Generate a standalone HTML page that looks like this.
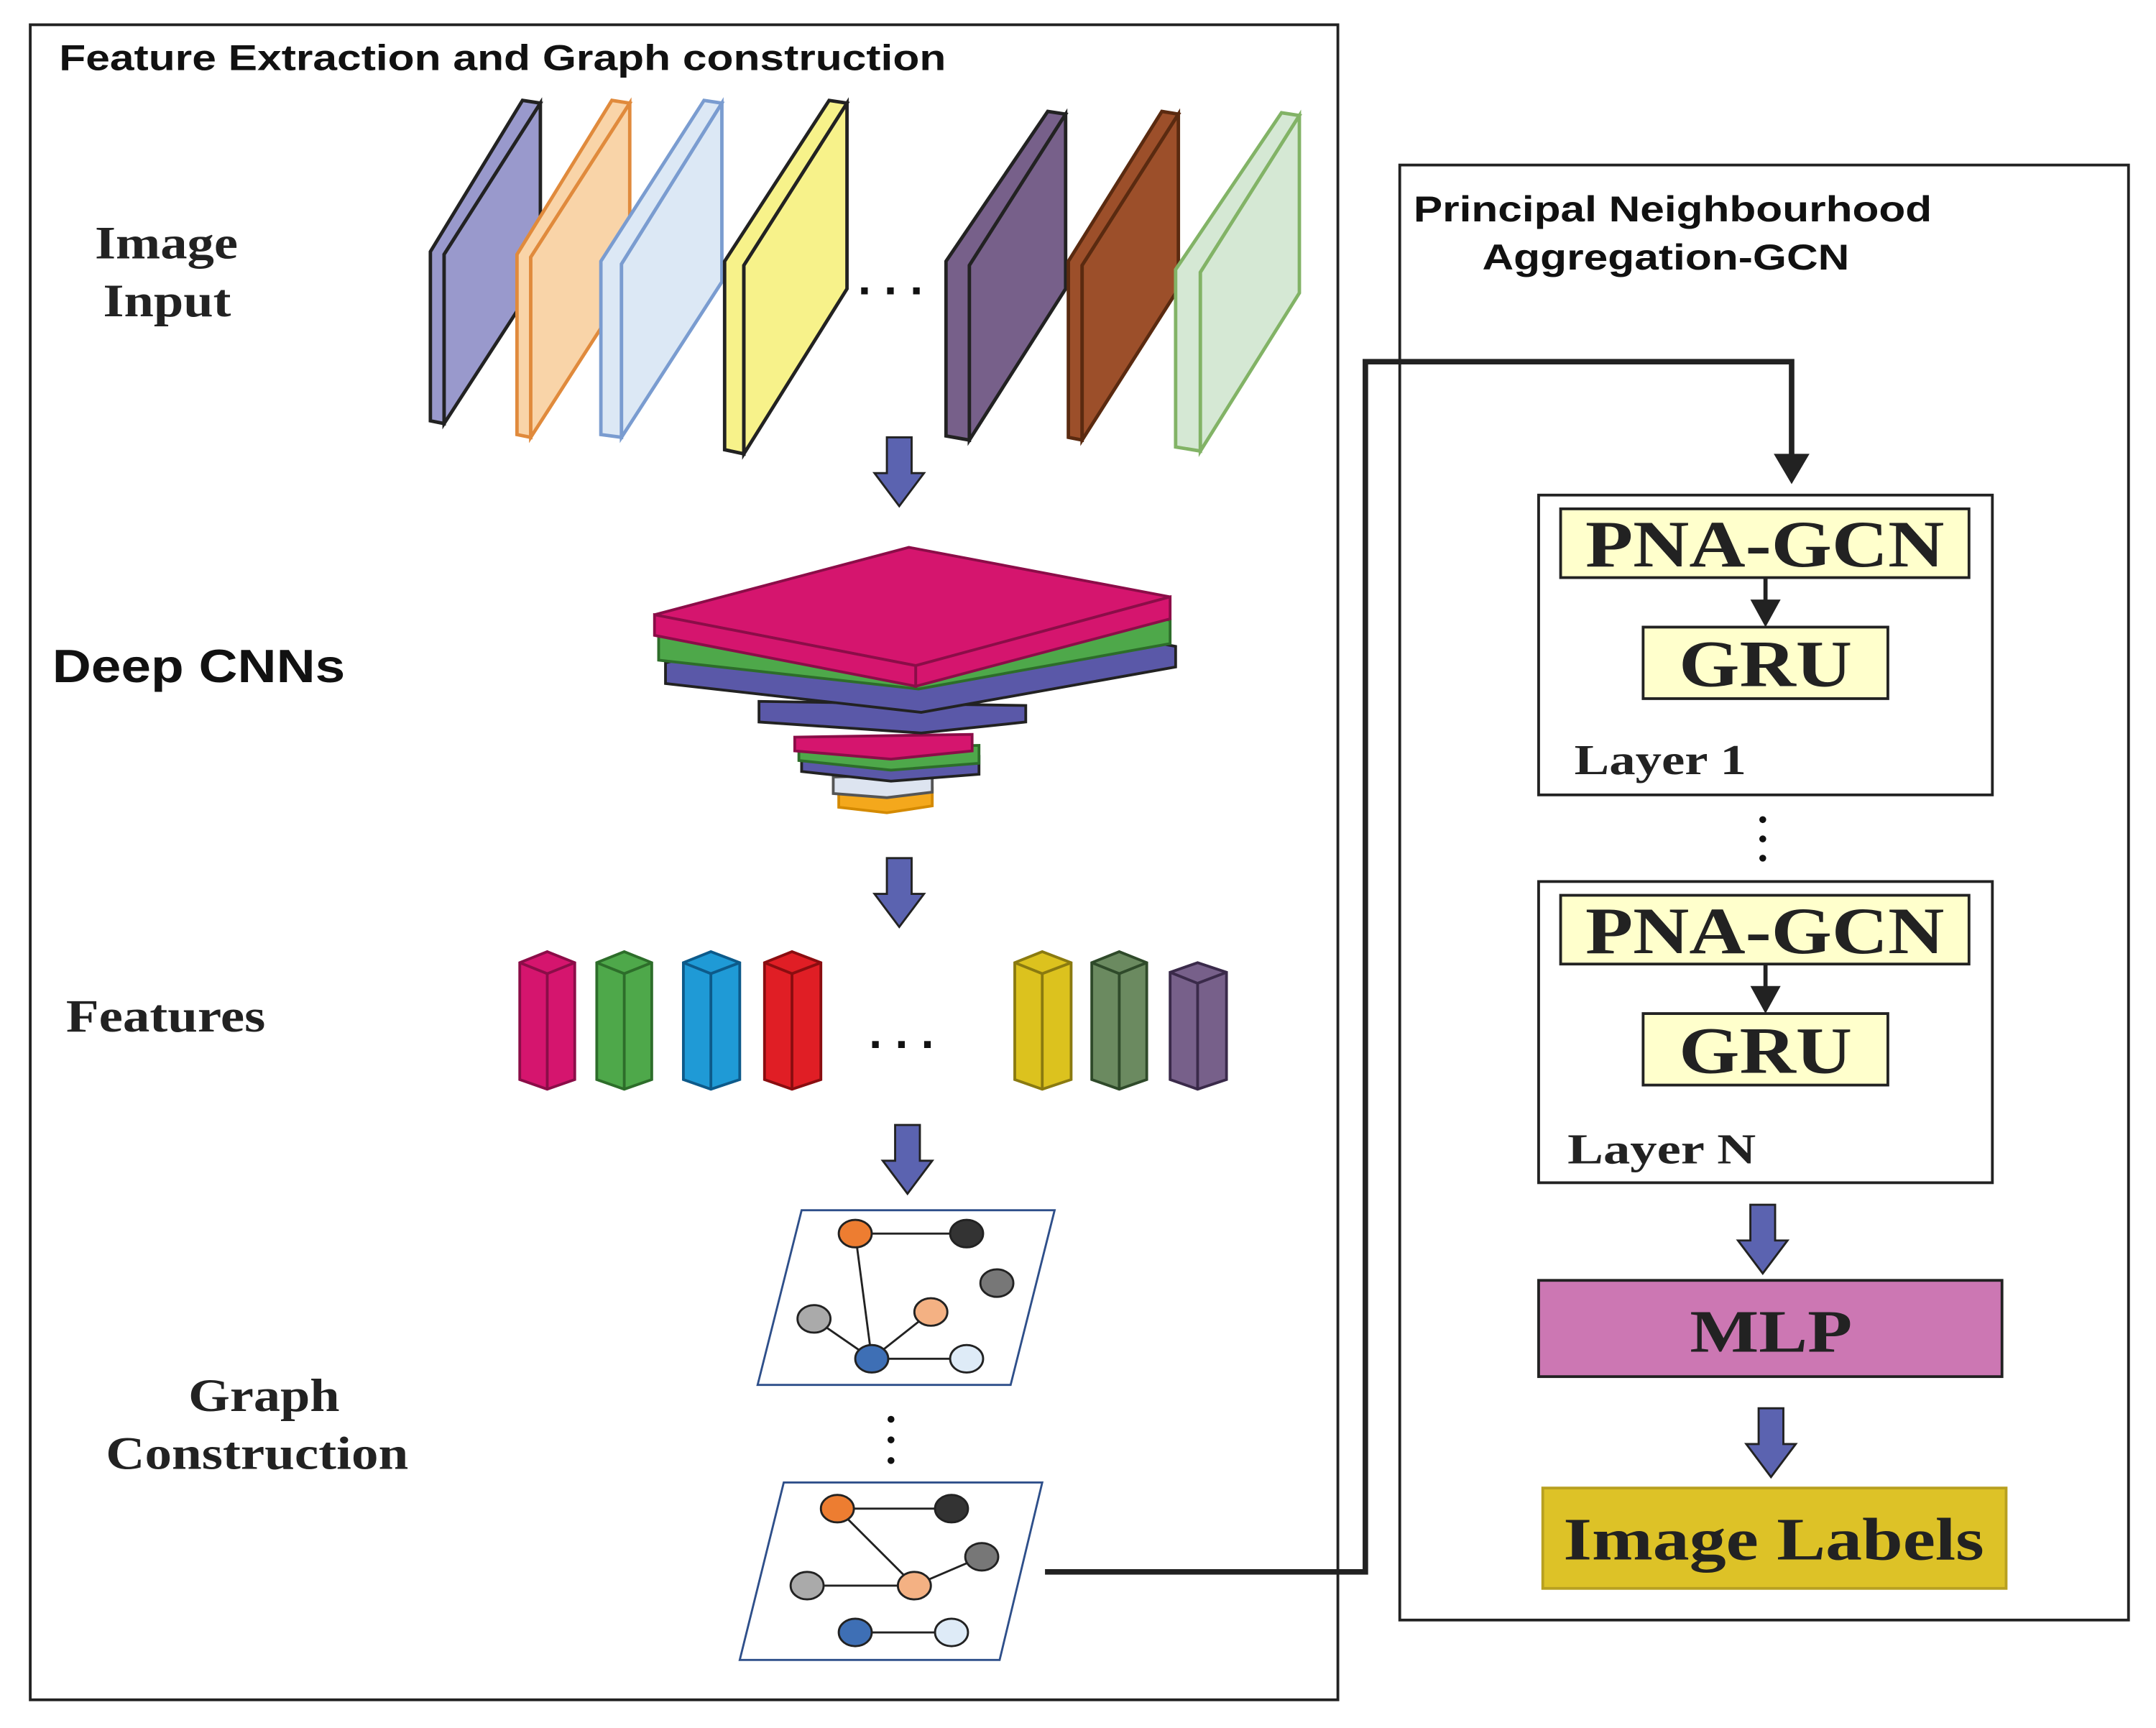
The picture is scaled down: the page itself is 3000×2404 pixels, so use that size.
<!DOCTYPE html>
<html><head><meta charset="utf-8"><style>html,body{margin:0;padding:0;background:#fff}svg{display:block}</style></head>
<body>
<svg width="3000" height="2404" viewBox="0 0 1568 1256.5" preserveAspectRatio="none" xmlns="http://www.w3.org/2000/svg">
<defs>
<g id="dn"><polygon points="-9,0 9,0 9,26 18,26 0,50 -18,26 -9,26" fill="#5b63b0" stroke="#222" stroke-width="1.5"/></g>
</defs>
<rect x="0" y="0" width="1568" height="1257" fill="#fff"/>
<rect x="22" y="18" width="951" height="1218" fill="none" stroke="#222" stroke-width="2"/>
<rect x="1018" y="120" width="530" height="1058" fill="none" stroke="#222" stroke-width="2"/>
<text x="43" y="51" font-family="Liberation Sans" font-weight="bold" font-size="26" fill="#111" textLength="645" lengthAdjust="spacingAndGlyphs">Feature Extraction and Graph construction</text>
<g font-family="Liberation Serif" font-weight="bold" font-size="34" fill="#222" lengthAdjust="spacingAndGlyphs">
<text x="69" y="188" textLength="104" lengthAdjust="spacingAndGlyphs">Image</text><text x="75" y="230" textLength="93" lengthAdjust="spacingAndGlyphs">Input</text>
<text x="48" y="750" textLength="145" lengthAdjust="spacingAndGlyphs">Features</text>
<text x="137" y="1026" textLength="110" lengthAdjust="spacingAndGlyphs">Graph</text><text x="77" y="1068" textLength="220" lengthAdjust="spacingAndGlyphs">Construction</text>
</g>
<text x="38" y="496" font-family="Liberation Sans" font-weight="bold" font-size="34" fill="#111" textLength="213" lengthAdjust="spacingAndGlyphs">Deep CNNs</text>
<!-- plates -->
<g stroke-width="2.5">
<g stroke="#222" fill="#9999cc"><polygon points="313,183 380,73 393,75 323,185 323,308 313,306"/><polygon points="323,185 393,75 393,200 323,308"/></g>
<g stroke="#e08a3c" fill="#f9d4a8"><polygon points="376,185 445,73 458,75 386,187 386,318 376,316"/><polygon points="386,187 458,75 458,206 386,318"/></g>
<g stroke="#7a9cd0" fill="#dce8f5"><polygon points="437,190 512,73 525,75 452,192 452,318 437,316"/><polygon points="452,192 525,75 525,205 452,318"/></g>
<g stroke="#222" fill="#f7f28a"><polygon points="527,190 603,73 616,75 541,193 541,330 527,327"/><polygon points="541,193 616,75 616,210 541,330"/></g>
<g stroke="#222" fill="#77608a"><polygon points="688,190 762,81 775,83 705,193 705,320 688,317"/><polygon points="705,193 775,83 775,210 705,320"/></g>
<g stroke="#5a2a10" fill="#9c4f2a"><polygon points="777,190 845,81 857,83 787,193 787,320 777,318"/><polygon points="787,193 857,83 857,210 787,320"/></g>
<g stroke="#82b366" fill="#d5e8d4"><polygon points="855,196 932,82 945,84 873,198 873,328 855,325"/><polygon points="873,198 945,84 945,213 873,328"/></g>
</g>
<text x="624" y="214" font-family="Liberation Sans" font-size="34" font-weight="bold" fill="#111">. . .</text>
<use href="#dn" x="654" y="318"/>
<use href="#dn" x="654" y="624"/>
<use href="#dn" x="660" y="818"/>
<!-- CNN stack -->
<g stroke-width="2">
<polygon points="610,575 678,573 678,586 645,591 610,587" fill="#f4a81c" stroke="#d48a00"/>
<polygon points="606,565 678,563 678,576 645,580 606,577" fill="#dde4f0" stroke="#555"/>
<polygon points="583,553 712,550 712,563 648,568 583,561" fill="#5a58a8" stroke="#222"/>
<polygon points="581,545 712,542 712,555 648,560 581,553" fill="#4ea84a" stroke="#2d6d2a"/>
<polygon points="578,536 707,534 707,546 648,552 578,546" fill="#d5156e" stroke="#8b0d48"/>
<polygon points="552,510 746,513 746,525 670,533 552,525" fill="#5a58a8" stroke="#222"/>
<polygon points="484,482 666,435 855,470 855,485 670,518 484,497" fill="#5a58a8" stroke="#222"/>
<polygon points="479,463 664,417 851,451 851,468 668,501 479,480" fill="#4ea84a" stroke="#2d6d2a"/>
<polygon points="476,447 661,398 851,434 666,484" fill="#d5156e" stroke="#8b0d48"/>
<polygon points="476,447 666,484 666,499 476,462" fill="#d5156e" stroke="#8b0d48"/>
<polygon points="666,484 851,434 851,450 666,499" fill="#d5156e" stroke="#8b0d48"/>
</g>
<!-- feature prisms -->
<g stroke-width="2">
<g fill="#d5156e" stroke="#8b0d48"><polygon points="378,700 398,692 418,700 418,785 398,792 378,785"/><polyline points="378,700 398,708 418,700" fill="none"/><line x1="398" y1="708" x2="398" y2="792"/></g>
<g fill="#4ea84a" stroke="#2d6d2a"><polygon points="434,700 454,692 474,700 474,785 454,792 434,785"/><polyline points="434,700 454,708 474,700" fill="none"/><line x1="454" y1="708" x2="454" y2="792"/></g>
<g fill="#1f9ad6" stroke="#0d5a8a"><polygon points="497,700 517,692 538,700 538,785 517,792 497,785"/><polyline points="497,700 517,708 538,700" fill="none"/><line x1="517" y1="708" x2="517" y2="792"/></g>
<g fill="#e01e25" stroke="#8a0d10"><polygon points="556,700 576,692 597,700 597,785 576,792 556,785"/><polyline points="556,700 576,708 597,700" fill="none"/><line x1="576" y1="708" x2="576" y2="792"/></g>
<g fill="#dcc21e" stroke="#8a7a10"><polygon points="738,700 758,692 779,700 779,785 758,792 738,785"/><polyline points="738,700 758,708 779,700" fill="none"/><line x1="758" y1="708" x2="758" y2="792"/></g>
<g fill="#6b8a60" stroke="#2f4a2a"><polygon points="794,700 814,692 834,700 834,785 814,792 794,785"/><polyline points="794,700 814,708 834,700" fill="none"/><line x1="814" y1="708" x2="814" y2="792"/></g>
<g fill="#77608a" stroke="#3a2a4a"><polygon points="851,707 871,700 892,707 892,785 871,792 851,785"/><polyline points="851,707 871,715 892,707" fill="none"/><line x1="871" y1="715" x2="871" y2="792"/></g>
</g>
<text x="632" y="762" font-family="Liberation Sans" font-size="34" font-weight="bold" fill="#111">. . .</text>
<!-- graphs -->
<g stroke="#222" stroke-width="1.5">
<polygon points="583,880 767,880 735,1007 551,1007" fill="#fff" stroke="#2e4f8a"/>
<line x1="622" y1="897" x2="703" y2="897"/><line x1="622" y1="897" x2="634" y2="988"/><line x1="592" y1="959" x2="634" y2="988"/><line x1="677" y1="954" x2="634" y2="988"/><line x1="634" y1="988" x2="703" y2="988"/>
<ellipse cx="622" cy="897" rx="12" ry="10" fill="#ed7d31"/><ellipse cx="703" cy="897" rx="12" ry="10" fill="#333"/><ellipse cx="725" cy="933" rx="12" ry="10" fill="#777"/>
<ellipse cx="592" cy="959" rx="12" ry="10" fill="#aaa"/><ellipse cx="677" cy="954" rx="12" ry="10" fill="#f4b183"/><ellipse cx="634" cy="988" rx="12" ry="10" fill="#3e6fb5"/><ellipse cx="703" cy="988" rx="12" ry="10" fill="#deebf7"/>
<polygon points="570,1078 758,1078 727,1207 538,1207" fill="#fff" stroke="#2e4f8a"/>
<line x1="609" y1="1097" x2="692" y2="1097"/><line x1="609" y1="1097" x2="665" y2="1153"/><line x1="587" y1="1153" x2="665" y2="1153"/><line x1="665" y1="1153" x2="714" y2="1132"/><line x1="622" y1="1187" x2="692" y2="1187"/>
<ellipse cx="609" cy="1097" rx="12" ry="10" fill="#ed7d31"/><ellipse cx="692" cy="1097" rx="12" ry="10" fill="#333"/><ellipse cx="714" cy="1132" rx="12" ry="10" fill="#777"/>
<ellipse cx="587" cy="1153" rx="12" ry="10" fill="#aaa"/><ellipse cx="665" cy="1153" rx="12" ry="10" fill="#f4b183"/><ellipse cx="622" cy="1187" rx="12" ry="10" fill="#3e6fb5"/><ellipse cx="692" cy="1187" rx="12" ry="10" fill="#deebf7"/>
</g>
<g fill="#111"><circle cx="648" cy="1032" r="2.5"/><circle cx="648" cy="1047" r="2.5"/><circle cx="648" cy="1062" r="2.5"/></g>
<!-- connector -->
<polyline points="760,1143 993,1143 993,263 1303,263 1303,335" fill="none" stroke="#222" stroke-width="4"/>
<polygon points="1290,330 1316,330 1303,352" fill="#222"/>
<!-- right -->
<text x="1028" y="161" font-family="Liberation Sans" font-weight="bold" font-size="26" fill="#111" textLength="377" lengthAdjust="spacingAndGlyphs">Principal Neighbourhood</text>
<text x="1078" y="196" font-family="Liberation Sans" font-weight="bold" font-size="26" fill="#111" textLength="267" lengthAdjust="spacingAndGlyphs">Aggregation-GCN</text>
<g stroke="#222" stroke-width="2">
<rect x="1119" y="360" width="330" height="218" fill="#fff"/>
<rect x="1135" y="370" width="297" height="50" fill="#ffffcc"/>
<rect x="1195" y="456" width="178" height="52" fill="#ffffcc"/>
<rect x="1119" y="641" width="330" height="219" fill="#fff"/>
<rect x="1135" y="651" width="297" height="50" fill="#ffffcc"/>
<rect x="1195" y="737" width="178" height="52" fill="#ffffcc"/>
<rect x="1119" y="931" width="337" height="70" fill="#cc77b3"/>
<rect x="1122" y="1082" width="337" height="73" fill="#ddc227" stroke="#b8a020"/>
<line x1="1284" y1="420" x2="1284" y2="440" stroke-width="3"/>
<line x1="1284" y1="701" x2="1284" y2="721" stroke-width="3"/>
</g>
<polygon points="1273,436 1295,436 1284,456" fill="#222"/>
<polygon points="1273,717 1295,717 1284,737" fill="#222"/>
<g font-family="Liberation Serif" font-weight="bold" fill="#222">
<text x="1153" y="412" font-size="48" textLength="261" lengthAdjust="spacingAndGlyphs">PNA-GCN</text>
<text x="1221" y="499" font-size="48" textLength="126" lengthAdjust="spacingAndGlyphs">GRU</text>
<text x="1153" y="693" font-size="48" textLength="261" lengthAdjust="spacingAndGlyphs">PNA-GCN</text>
<text x="1221" y="780" font-size="48" textLength="126" lengthAdjust="spacingAndGlyphs">GRU</text>
<text x="1229" y="983" font-size="44" textLength="118" lengthAdjust="spacingAndGlyphs">MLP</text>
<text x="1137" y="1134" font-size="44" textLength="306" lengthAdjust="spacingAndGlyphs">Image Labels</text>
</g>
<text x="1145" y="563" font-family="Liberation Serif" font-weight="bold" font-size="31" fill="#222" textLength="125" lengthAdjust="spacingAndGlyphs">Layer 1</text>
<text x="1140" y="846" font-family="Liberation Serif" font-weight="bold" font-size="31" fill="#222" textLength="137" lengthAdjust="spacingAndGlyphs">Layer N</text>
<g fill="#111"><circle cx="1282" cy="596" r="2.5"/><circle cx="1282" cy="610" r="2.5"/><circle cx="1282" cy="624" r="2.5"/></g>
<use href="#dn" x="1282" y="876"/>
<use href="#dn" x="1288" y="1024"/>
</svg>
</body></html>
